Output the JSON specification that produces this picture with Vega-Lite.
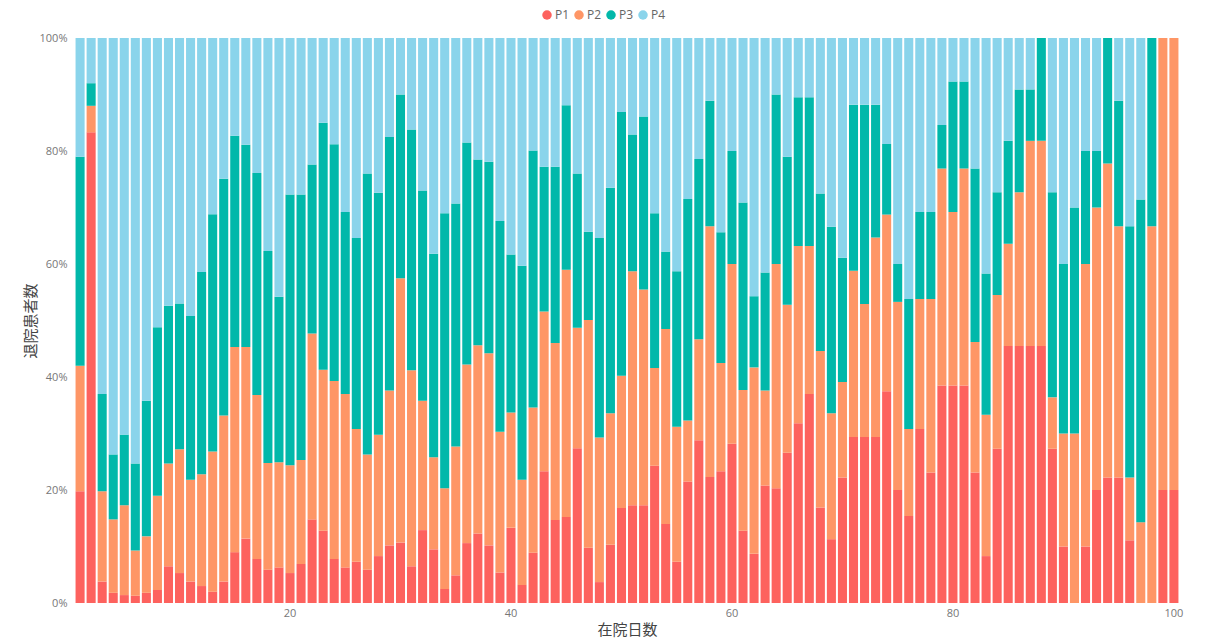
{
  "$schema": "https://vega.github.io/schema/vega-lite/v6.json",
  "autosize": {"type": "none"},
  "padding": {"left": 75, "top": 38, "right": 32, "bottom": 35},
  "width": 1104,
  "height": 565,
  "background": "white",
  "config": {
    "font": "Open Sans, Noto Sans CJK JP",
    "view": {"stroke": null}
  },
  "data": {
    "values": [
      {"d":1,"P1":19.8,"P2":22.2,"P3":37,"P4":21},
      {"d":2,"P1":83.3,"P2":4.7,"P3":4,"P4":8},
      {"d":3,"P1":3.8,"P2":16,"P3":17.2,"P4":63},
      {"d":4,"P1":1.8,"P2":13,"P3":11.5,"P4":73.7},
      {"d":5,"P1":1.4,"P2":15.9,"P3":12.5,"P4":70.2},
      {"d":6,"P1":1.3,"P2":8,"P3":15.4,"P4":75.3},
      {"d":7,"P1":1.8,"P2":10,"P3":24,"P4":64.2},
      {"d":8,"P1":2.3,"P2":16.7,"P3":29.8,"P4":51.2},
      {"d":9,"P1":6.5,"P2":18.2,"P3":27.9,"P4":47.4},
      {"d":10,"P1":5.3,"P2":21.9,"P3":25.8,"P4":47},
      {"d":11,"P1":3.8,"P2":18,"P3":29,"P4":49.2},
      {"d":12,"P1":3,"P2":19.8,"P3":35.8,"P4":41.4},
      {"d":13,"P1":2,"P2":24.8,"P3":42,"P4":31.2},
      {"d":14,"P1":3.8,"P2":29.4,"P3":41.9,"P4":24.9},
      {"d":15,"P1":9,"P2":36.3,"P3":37.4,"P4":17.3},
      {"d":16,"P1":11.4,"P2":33.9,"P3":35.8,"P4":18.9},
      {"d":17,"P1":7.8,"P2":29,"P3":39.3,"P4":23.9},
      {"d":18,"P1":5.9,"P2":18.9,"P3":37.5,"P4":37.7},
      {"d":19,"P1":6.3,"P2":18.6,"P3":29.3,"P4":45.8},
      {"d":20,"P1":5.3,"P2":19.1,"P3":47.9,"P4":27.7},
      {"d":21,"P1":6.9,"P2":18.4,"P3":47,"P4":27.7},
      {"d":22,"P1":14.8,"P2":32.9,"P3":29.9,"P4":22.4},
      {"d":23,"P1":12.8,"P2":28.5,"P3":43.7,"P4":15},
      {"d":24,"P1":7.8,"P2":31.5,"P3":41.9,"P4":18.8},
      {"d":25,"P1":6.3,"P2":30.7,"P3":32.2,"P4":30.8},
      {"d":26,"P1":7.3,"P2":23.5,"P3":33.8,"P4":35.4},
      {"d":27,"P1":5.9,"P2":20.4,"P3":49.7,"P4":24},
      {"d":28,"P1":8.3,"P2":21.5,"P3":42.8,"P4":27.4},
      {"d":29,"P1":10.2,"P2":27.4,"P3":44.9,"P4":17.5},
      {"d":30,"P1":10.7,"P2":46.8,"P3":32.5,"P4":10},
      {"d":31,"P1":6.5,"P2":34.7,"P3":42.6,"P4":16.2},
      {"d":32,"P1":12.9,"P2":22.9,"P3":37.2,"P4":27},
      {"d":33,"P1":9.5,"P2":16.3,"P3":36,"P4":38.2},
      {"d":34,"P1":2.5,"P2":17.8,"P3":48.7,"P4":31},
      {"d":35,"P1":4.9,"P2":22.8,"P3":43,"P4":29.3},
      {"d":36,"P1":10.6,"P2":31.6,"P3":39.3,"P4":18.5},
      {"d":37,"P1":12.3,"P2":33.3,"P3":32.9,"P4":21.5},
      {"d":38,"P1":10.2,"P2":34,"P3":33.9,"P4":21.9},
      {"d":39,"P1":5.4,"P2":24.9,"P3":37.3,"P4":32.4},
      {"d":40,"P1":13.3,"P2":20.4,"P3":28,"P4":38.3},
      {"d":41,"P1":3.2,"P2":18.6,"P3":37.9,"P4":40.3},
      {"d":42,"P1":8.9,"P2":25.7,"P3":45.5,"P4":19.9},
      {"d":43,"P1":23.3,"P2":28.3,"P3":25.6,"P4":22.8},
      {"d":44,"P1":14.7,"P2":31.3,"P3":31.2,"P4":22.8},
      {"d":45,"P1":15.2,"P2":43.8,"P3":29.1,"P4":11.9},
      {"d":46,"P1":27.4,"P2":21.3,"P3":27.3,"P4":24},
      {"d":47,"P1":9.8,"P2":40.3,"P3":15.6,"P4":34.3},
      {"d":48,"P1":3.7,"P2":25.6,"P3":35.3,"P4":35.4},
      {"d":49,"P1":10.3,"P2":23.3,"P3":39.9,"P4":26.5},
      {"d":50,"P1":16.8,"P2":23.4,"P3":46.7,"P4":13.1},
      {"d":51,"P1":17.3,"P2":41.4,"P3":24.2,"P4":17.1},
      {"d":52,"P1":17.3,"P2":38.2,"P3":30.6,"P4":13.9},
      {"d":53,"P1":24.3,"P2":17.3,"P3":27.4,"P4":31},
      {"d":54,"P1":14,"P2":34.5,"P3":13.7,"P4":37.8},
      {"d":55,"P1":7.3,"P2":23.9,"P3":27.5,"P4":41.3},
      {"d":56,"P1":21.5,"P2":10.8,"P3":39.2,"P4":28.5},
      {"d":57,"P1":28.8,"P2":17.9,"P3":31.9,"P4":21.4},
      {"d":58,"P1":22.3,"P2":44.4,"P3":22.2,"P4":11.1},
      {"d":59,"P1":23.3,"P2":19.2,"P3":23.1,"P4":34.4},
      {"d":60,"P1":28.2,"P2":31.8,"P3":20,"P4":20},
      {"d":61,"P1":12.8,"P2":24.9,"P3":33.2,"P4":29.1},
      {"d":62,"P1":8.7,"P2":33,"P3":12.6,"P4":45.7},
      {"d":63,"P1":20.8,"P2":16.8,"P3":20.9,"P4":41.5},
      {"d":64,"P1":20.3,"P2":39.7,"P3":30,"P4":10},
      {"d":65,"P1":26.6,"P2":26.2,"P3":26.2,"P4":21},
      {"d":66,"P1":31.8,"P2":31.4,"P3":26.3,"P4":10.5},
      {"d":67,"P1":37,"P2":26.2,"P3":26.3,"P4":10.5},
      {"d":68,"P1":16.9,"P2":27.7,"P3":27.9,"P4":27.5},
      {"d":69,"P1":11.3,"P2":22.3,"P3":33,"P4":33.4},
      {"d":70,"P1":22.2,"P2":16.9,"P3":22,"P4":38.9},
      {"d":71,"P1":29.4,"P2":29.4,"P3":29.4,"P4":11.8},
      {"d":72,"P1":29.4,"P2":23.5,"P3":35.3,"P4":11.8},
      {"d":73,"P1":29.4,"P2":35.3,"P3":23.5,"P4":11.8},
      {"d":74,"P1":37.5,"P2":31.25,"P3":12.5,"P4":18.75},
      {"d":75,"P1":20,"P2":33.3,"P3":6.7,"P4":40},
      {"d":76,"P1":15.4,"P2":15.4,"P3":23,"P4":46.2},
      {"d":77,"P1":30.8,"P2":23,"P3":15.4,"P4":30.8},
      {"d":78,"P1":23.1,"P2":30.7,"P3":15.4,"P4":30.8},
      {"d":79,"P1":38.5,"P2":38.4,"P3":7.7,"P4":15.4},
      {"d":80,"P1":38.5,"P2":30.7,"P3":23.1,"P4":7.7},
      {"d":81,"P1":38.5,"P2":38.4,"P3":15.4,"P4":7.7},
      {"d":82,"P1":23.1,"P2":23.1,"P3":30.7,"P4":23.1},
      {"d":83,"P1":8.3,"P2":25,"P3":25,"P4":41.7},
      {"d":84,"P1":27.3,"P2":27.2,"P3":18.2,"P4":27.3},
      {"d":85,"P1":45.5,"P2":18.1,"P3":18.2,"P4":18.2},
      {"d":86,"P1":45.5,"P2":27.2,"P3":18.2,"P4":9.1},
      {"d":87,"P1":45.5,"P2":36.3,"P3":9.1,"P4":9.1},
      {"d":88,"P1":45.5,"P2":36.3,"P3":18.2,"P4":0},
      {"d":89,"P1":27.3,"P2":9.1,"P3":36.3,"P4":27.3},
      {"d":90,"P1":10,"P2":20,"P3":30,"P4":40},
      {"d":91,"P1":0,"P2":30,"P3":40,"P4":30},
      {"d":92,"P1":10,"P2":50,"P3":20,"P4":20},
      {"d":93,"P1":20,"P2":50,"P3":10,"P4":20},
      {"d":94,"P1":22.2,"P2":55.6,"P3":22.2,"P4":0},
      {"d":95,"P1":22.2,"P2":44.5,"P3":22.2,"P4":11.1},
      {"d":96,"P1":11.1,"P2":11.1,"P3":44.5,"P4":33.3},
      {"d":97,"P1":0,"P2":14.3,"P3":57.1,"P4":28.6},
      {"d":98,"P1":0,"P2":66.7,"P3":33.3,"P4":0},
      {"d":99,"P1":20,"P2":80,"P3":0,"P4":0},
      {"d":100,"P1":20,"P2":80,"P3":0,"P4":0}
    ]
  },
  "transform": [
    {"fold": ["P1", "P2", "P3", "P4"], "as": ["k", "v"]}
  ],
  "mark": {"type": "bar"},
  "encoding": {
    "x": {
      "field": "d",
      "type": "ordinal",
      "sort": "ascending",
      "scale": {"paddingInner": 0.18, "paddingOuter": 0.05},
      "axis": {
        "title": "在院日数",
        "labelExpr": "datum.value % 20 === 0 ? datum.value : ''",
        "labelAngle": 0,
        "labelOverlap": false,
        "ticks": false,
        "domain": false,
        "labelPadding": 4,
        "labelFontSize": 11,
        "labelColor": "#777777",
        "titleFontSize": 15,
        "titleFontWeight": "normal",
        "titleColor": "#444444",
        "titlePadding": 4
      }
    },
    "y": {
      "field": "v",
      "type": "quantitative",
      "stack": "normalize",
      "axis": {
        "title": "退院患者数",
        "format": ".0%",
        "values": [0, 0.2, 0.4, 0.6, 0.8, 1],
        "grid": false,
        "ticks": false,
        "domain": false,
        "labelPadding": 8,
        "labelFontSize": 11,
        "labelColor": "#777777",
        "titleFontSize": 15,
        "titleFontWeight": "normal",
        "titleColor": "#444444",
        "titlePadding": 1
      }
    },
    "color": {
      "field": "k",
      "type": "nominal",
      "scale": {"domain": ["P1", "P2", "P3", "P4"], "range": ["#FD625E", "#FE9666", "#01B8AA", "#8AD4EB"]},
      "legend": {
        "title": null,
        "orient": "none",
        "direction": "horizontal",
        "legendX": 466,
        "legendY": -29,
        "symbolType": "circle",
        "symbolSize": 90,
        "symbolStrokeWidth": 0,
        "labelFontSize": 12,
        "labelColor": "#666666",
        "labelOffset": 2,
        "columnPadding": 3
      }
    },
    "order": {"field": "k", "sort": "ascending"}
  }
}
